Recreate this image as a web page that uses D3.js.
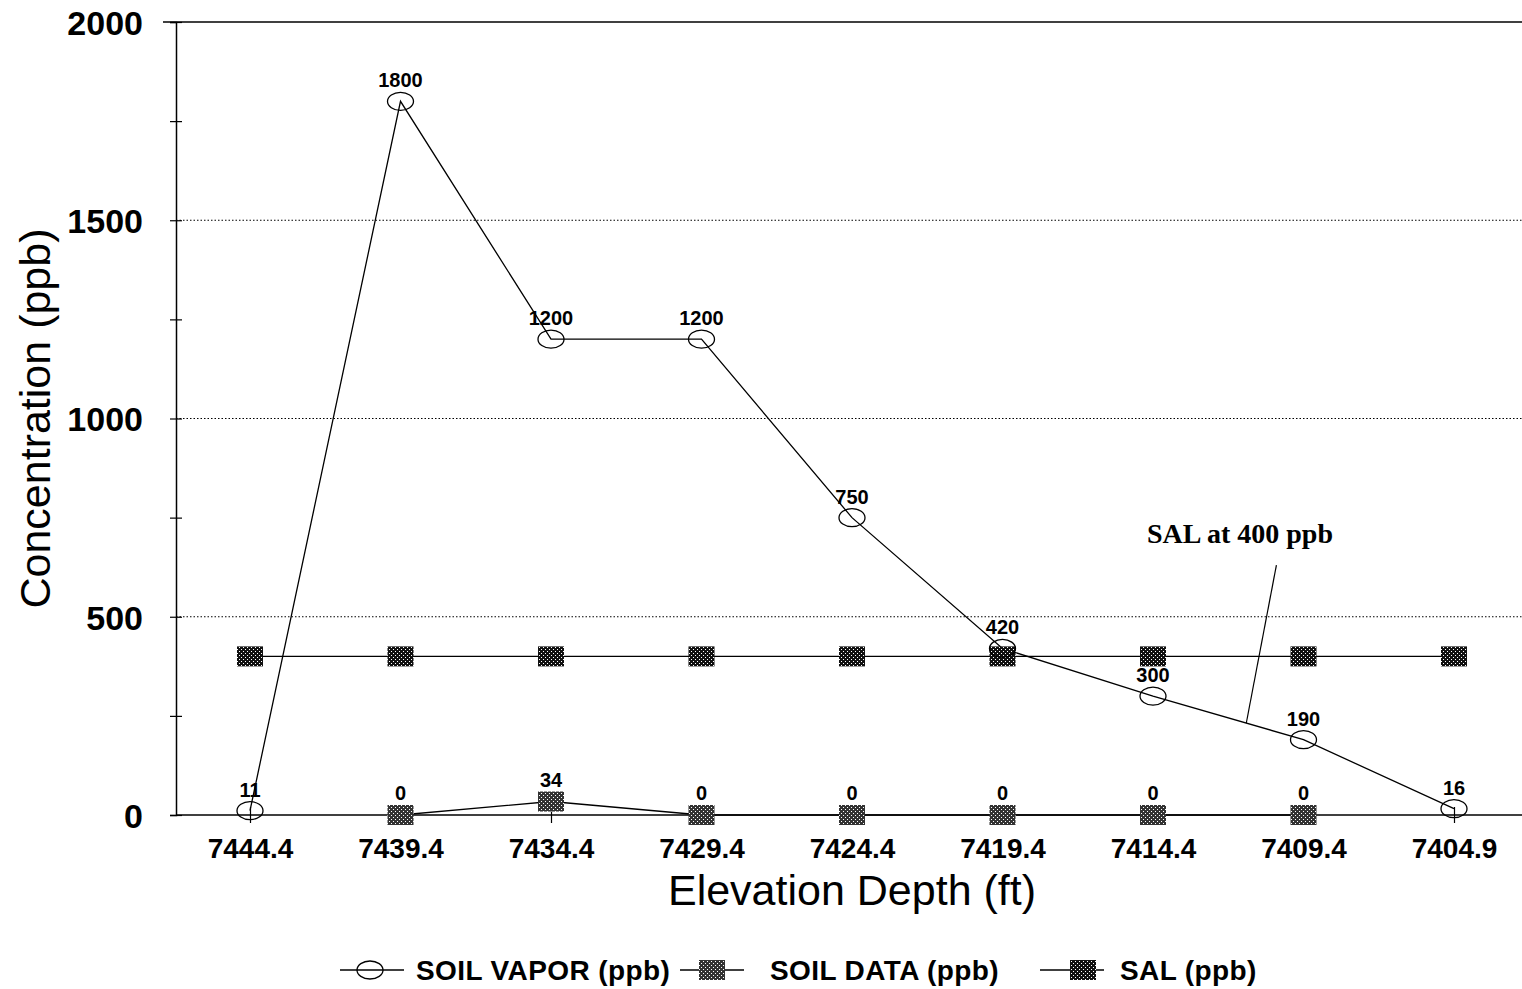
<!DOCTYPE html>
<head>
  <meta charset="utf-8">
  <script src="https://d3js.org/d3.v7.min.js"></script>
  <style>
    body { margin:0; background:#fff; }
    svg { display:block; }
    text { font-family: "Liberation Sans", Arial, sans-serif; }
  </style>
</head>
<body>
  <svg width="1522" height="989"></svg>
  <script>
    // data
    var depths = ['7444.4', '7439.4', '7434.4', '7429.4', '7424.4', '7419.4', '7414.4', '7409.4', '7404.9'];
    var soilVapor = [11, 1800, 1200, 1200, 750, 420, 300, 190, 16];
    var soilData = [null, 0, 34, 0, 0, 0, 0, 0, null];
    var sal = [400, 400, 400, 400, 400, 400, 400, 400, 400];
    var yTicks = [0, 250, 500, 750, 1000, 1250, 1500, 1750, 2000];
    var legendNames = ['SOIL VAPOR (ppb)', 'SOIL DATA (ppb)', 'SAL (ppb)'];

    var width = 1522, height = 989;
    var margin = {top: 22, right: 0, bottom: 174, left: 176};

    var svg = d3.select('svg');

    // patterns for the square markers
    var defs = svg.append('defs');
    function dots(id, bg) {
      var p = defs.append('pattern').attr('id', id)
        .attr('width', 4).attr('height', 4).attr('patternUnits', 'userSpaceOnUse');
      p.append('rect').attr('width', 4).attr('height', 4).attr('fill', bg);
      p.append('rect').attr('x', 1).attr('y', 1).attr('width', 1).attr('height', 1).attr('fill', '#fff');
      p.append('rect').attr('x', 3).attr('y', 3).attr('width', 1).attr('height', 1).attr('fill', '#fff');
    }
    dots('patData', '#333');
    dots('patSal', '#111');

    // scales
    var x = d3.scalePoint()
      .domain(depths)
      .range([250, 1454]);
    var y = d3.scaleLinear()
      .domain([0, 2000])
      .range([height - margin.bottom, margin.top]);

    // gridlines
    svg.append('g').selectAll('line')
      .data([500, 1000, 1500])
      .enter().append('line')
      .attr('x1', margin.left).attr('x2', width)
      .attr('y1', d => y(d)).attr('y2', d => y(d))
      .attr('stroke', '#000').attr('stroke-width', 1)
      .attr('stroke-dasharray', '1.5,2');

    // top frame line
    svg.append('line')
      .attr('x1', margin.left - 13).attr('x2', width)
      .attr('y1', y(2000)).attr('y2', y(2000))
      .attr('stroke', '#000').attr('stroke-width', 1.5);

    // y axis
    var yAxis = d3.axisLeft(y)
      .tickValues(yTicks)
      .tickSize(6)
      .tickFormat(d => d % 500 === 0 ? d : '');
    var gy = svg.append('g')
      .attr('transform', 'translate(' + margin.left + ',0)')
      .call(yAxis);
    gy.select('.domain').attr('stroke-width', 1.5);
    gy.selectAll('.tick line').attr('x1', -6).attr('x2', 6).attr('stroke-width', 1.2);
    gy.selectAll('.tick text')
      .attr('x', -33)
      .attr('dy', '0.36em')
      .style('font-size', '34px').style('font-weight', 'bold').attr('fill', '#000');

    // x axis
    var xAxis = d3.axisBottom(x).tickSize(8);
    var gx = svg.append('g')
      .attr('transform', 'translate(0,' + y(0) + ')')
      .call(xAxis);
    gx.select('.domain').remove();
    gx.append('line')
      .attr('x1', margin.left).attr('x2', width)
      .attr('stroke', '#000').attr('stroke-width', 1.5);
    gx.selectAll('.tick line').attr('y1', -8).attr('y2', 8).attr('stroke-width', 1.2);
    gx.selectAll('.tick text')
      .attr('y', 43).attr('dy', 0)
      .style('font-size', '28px').style('font-weight', 'bold').attr('fill', '#000');

    // axis titles
    svg.append('text')
      .attr('transform', 'translate(50,' + ((y(0) + y(2000)) / 2) + ') rotate(-90)')
      .attr('text-anchor', 'middle')
      .style('font-size', '43px')
      .text('Concentration (ppb)');
    svg.append('text')
      .attr('x', 852).attr('y', 905)
      .attr('text-anchor', 'middle')
      .style('font-size', '43px')
      .text('Elevation Depth (ft)');

    var line = d3.line()
      .defined(d => d !== null)
      .x((d, i) => x(depths[i]))
      .y(d => y(d));

    // lines
    [sal, soilData, soilVapor].forEach(s => {
      svg.append('path')
        .attr('d', line(s))
        .attr('fill', 'none')
        .attr('stroke', '#000')
        .attr('stroke-width', 1.3);
    });

    // SAL squares
    svg.append('g').selectAll('rect')
      .data(sal)
      .enter().append('rect')
      .attr('x', (d, i) => x(depths[i]) - 13)
      .attr('y', d => y(d) - 10)
      .attr('width', 26).attr('height', 20)
      .attr('fill', 'url(#patSal)');

    // soil data squares
    svg.append('g').selectAll('rect')
      .data(soilData.map((v, i) => ({v: v, d: depths[i]})).filter(o => o.v !== null))
      .enter().append('rect')
      .attr('x', o => x(o.d) - 13)
      .attr('y', o => y(o.v) - 10)
      .attr('width', 26).attr('height', 20)
      .attr('fill', 'url(#patData)');

    // soil vapor circles
    svg.append('g').selectAll('ellipse')
      .data(soilVapor)
      .enter().append('ellipse')
      .attr('cx', (d, i) => x(depths[i]))
      .attr('cy', d => y(d))
      .attr('rx', 13).attr('ry', 9)
      .attr('fill', 'none')
      .attr('stroke', '#000').attr('stroke-width', 1.3);

    // value labels
    function labels(s, off) {
      svg.append('g').selectAll('text')
        .data(s.map((v, i) => ({v: v, d: depths[i]})).filter(o => o.v !== null))
        .enter().append('text')
        .attr('x', o => x(o.d))
        .attr('y', o => y(o.v) - off)
        .attr('text-anchor', 'middle')
        .style('font-size', '20px').style('font-weight', 'bold')
        .text(o => o.v);
    }
    labels(soilVapor, 14);
    labels(soilData, 15);

    // annotation
    var step = x('7409.4') - x('7414.4');
    svg.append('line')
      .attr('x1', x('7414.4') + step * 0.82).attr('y1', y(630))
      .attr('x2', x('7414.4') + step * 0.62).attr('y2', y(232))
      .attr('stroke', '#000').attr('stroke-width', 1.2);
    svg.append('text')
      .attr('x', 1240).attr('y', y(685))
      .attr('text-anchor', 'middle')
      .style('font-family', '"Liberation Serif", "Times New Roman", serif')
      .style('font-size', '28px').style('font-weight', 'bold')
      .text('SAL at 400 ppb');

    // legend
    var legX = [340, 680, 1040];
    var legText = [416, 770, 1120];
    var leg = svg.append('g').attr('transform', 'translate(0,970)');
    legendNames.forEach((name, i) => {
      leg.append('line')
        .attr('x1', legX[i]).attr('x2', legX[i] + 64)
        .attr('stroke', '#000').attr('stroke-width', 1.3);
      if (i === 0) {
        leg.append('ellipse')
          .attr('cx', legX[i] + 30).attr('rx', 13).attr('ry', 9)
          .attr('fill', 'none').attr('stroke', '#000').attr('stroke-width', 1.3);
      } else {
        leg.append('rect')
          .attr('x', legX[i] + 32 - 13 + (i === 2 ? 11 : 0)).attr('y', -10)
          .attr('width', 26).attr('height', 20)
          .attr('fill', i === 1 ? 'url(#patData)' : 'url(#patSal)');
      }
      leg.append('text')
        .attr('x', legText[i]).attr('y', 10)
        .style('font-size', '28px').style('font-weight', 'bold')
        .style('letter-spacing', '0.4px')
        .text(name);
    });
  </script>
</body>
